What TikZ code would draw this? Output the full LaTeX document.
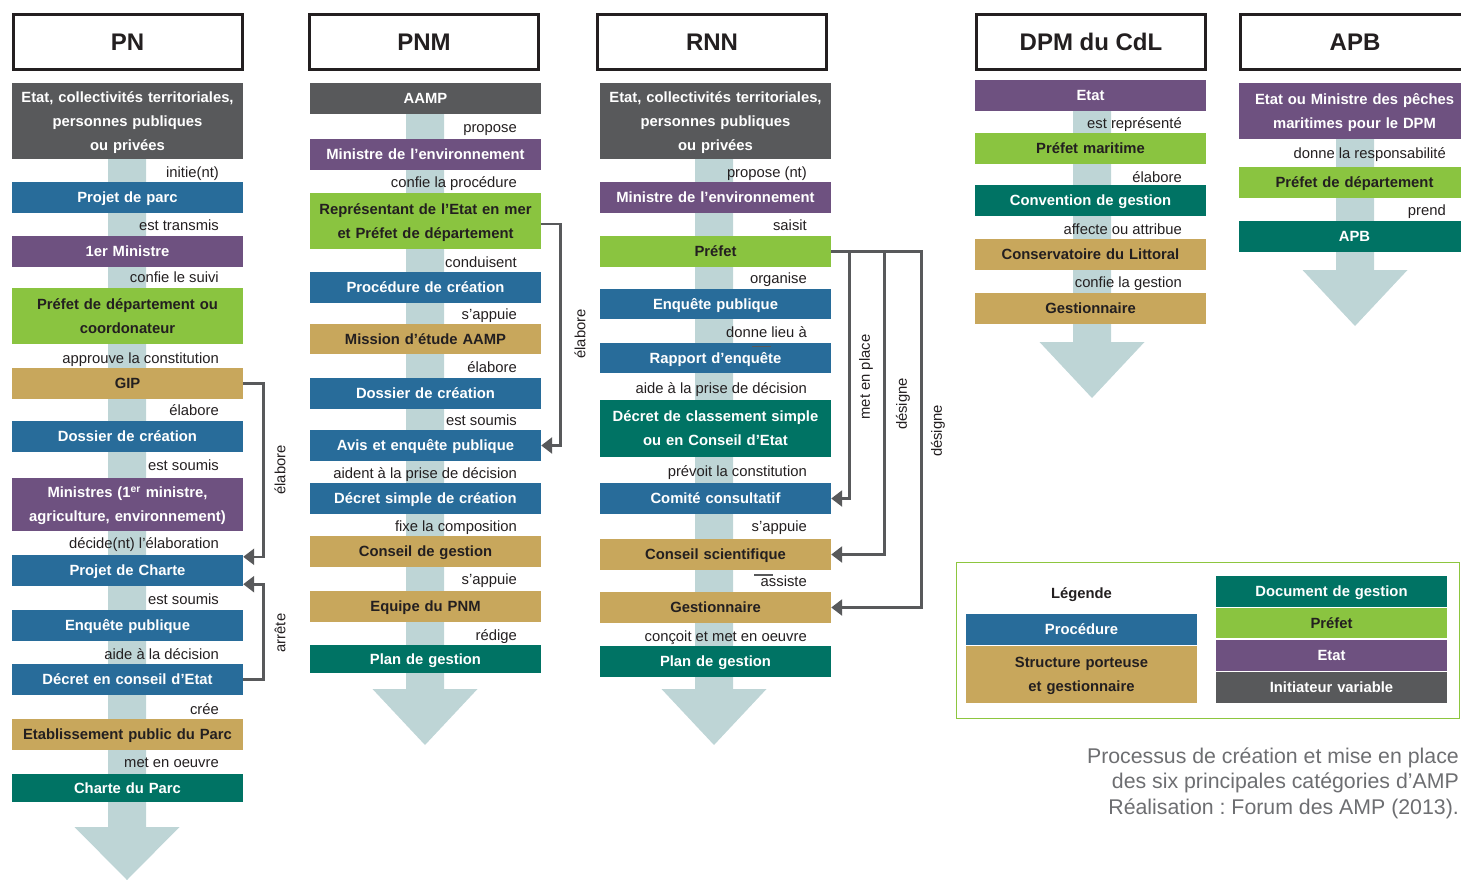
\documentclass[tikz,border=0pt]{standalone}
\usepackage{fontspec}
\setmainfont{Liberation Sans}
\usetikzlibrary{arrows.meta}

\definecolor{cgray}{RGB}{88,89,91}
\definecolor{cblue}{RGB}{40,108,154}
\definecolor{cpurple}{RGB}{110,81,128}
\definecolor{cgreen}{RGB}{138,196,64}
\definecolor{ctan}{RGB}{200,167,92}
\definecolor{cteal}{RGB}{0,115,100}
\definecolor{cstem}{RGB}{190,213,214}
\definecolor{cink}{RGB}{35,31,32}
\definecolor{cline}{RGB}{88,89,91}
\definecolor{cframe}{RGB}{141,198,63}
\definecolor{ccap}{RGB}{109,110,113}

\newcommand{\boxfont}{\fontsize{14.8}{24}\selectfont\bfseries}
\newcommand{\lblfont}{\fontsize{14.8}{18}\selectfont}
% flow stem with arrow head: centre x, top y, head base y, tip y
\newcommand{\flowstem}[4]{\fill[cstem] (#1-19,#2) -- (#1+19,#2) -- (#1+19,#3) -- (#1+52.5,#3) -- (#1,#4) -- (#1-52.5,#3) -- (#1-19,#3) -- cycle;}

\tikzset{
  box/.style={rectangle, inner sep=0pt, minimum width=231pt, minimum height=31pt, text width=229pt, align=center, font=\boxfont,
    execute at begin node={\rule{0pt}{14pt}}, execute at end node={\rule[-3.5pt]{0pt}{3.5pt}}},
  bgray/.style={box, fill=cgray, text=white},
  bblue/.style={box, fill=cblue, text=white},
  bpurple/.style={box, fill=cpurple, text=white},
  bteal/.style={box, fill=cteal, text=white},
  bgreen/.style={box, fill=cgreen, text=cink},
  btan/.style={box, fill=ctan, text=cink},
  titlebox/.style={rectangle, draw=cink, line width=3pt, fill=white, minimum width=229pt, minimum height=55pt, inner sep=0pt, font=\fontsize{24}{28}\selectfont\bfseries, text=cink},
  verb/.style={anchor=east, inner sep=0pt, font=\lblfont, text=cink, text height=14pt, text depth=2.5pt},
  side/.style={rotate=90, inner sep=0pt, font=\lblfont, text=cink},
  conn/.style={draw=cline, line width=2.6pt, -{Triangle[length=11pt,width=16pt]}},
}

\begin{document}
\begin{tikzpicture}[x=1pt,y=-1pt]
\useasboundingbox (0,0) rectangle (1461,880);
\clip (0,0) rectangle (1461,880);

% ---------- stems ----------
\flowstem{127}{159}{827}{880}
\flowstem{425}{114}{689}{745}
\flowstem{714}{159}{689}{745}
\flowstem{1092}{111}{342}{398}
\flowstem{1355}{139}{270}{326}

% ---------- PN ----------
\node[titlebox] (pnT) at (127.5,42) {PN};
\node[bgray, minimum height=76pt] (pn0) at (127.5,121) {Etat, collectivités territoriales,\\personnes publiques\\ou privées};
\node[bblue] (pn1) at (127.5,197.5) {Projet de parc};
\node[bpurple] (pn2) at (127.5,251.5) {1er Ministre};
\node[bgreen, minimum height=56pt] (pn3) at (127.5,316) {Préfet de département ou\\coordonateur};
\node[btan] (pn4) at (127.5,383.5) {GIP};
\node[bblue] (pn5) at (127.5,436.5) {Dossier de création};
\node[bpurple, minimum height=53pt] (pn6) at (127.5,504.5) {Ministres (1\textsuperscript{er} ministre,\\agriculture, environnement)};
\node[bblue] (pn7) at (127.5,570.5) {Projet de Charte};
\node[bblue] (pn8) at (127.5,625.5) {Enquête publique};
\node[bblue] (pn9) at (127.5,679.5) {Décret en conseil d’Etat};
\node[btan] (pn10) at (127.5,734.5) {Etablissement public du Parc};
\node[bteal, minimum height=28pt] (pn11) at (127.5,788) {Charte du Parc};

\node[verb] (pnv1) at (219,172) {initie(nt)};
\node[verb] (pnv2) at (219,225) {est transmis};
\node[verb] (pnv3) at (219,277) {confie le suivi};
\node[verb] (pnv4) at (219,358) {approuve la constitution};
\node[verb] (pnv5) at (219,410) {élabore};
\node[verb] (pnv6) at (219,465) {est soumis};
\node[verb] (pnv7) at (219,543) {décide(nt) l’élaboration};
\node[verb] (pnv8) at (219,599) {est soumis};
\node[verb] (pnv9) at (219,654) {aide à la décision};
\node[verb] (pnv10) at (219,709) {crée};
\node[verb] (pnv11) at (219,762) {met en oeuvre};

\draw[conn] (pn4.east) -- ++(20,0) |- ([yshift=-2pt]pn7.north east);
\draw[conn] (pn9.east) -- ++(20,0) |- ([yshift=2pt]pn7.south east);
\node[side] (pns1) at (280,470) {élabore};
\node[side] (pns2) at (280,633) {arrête};

% ---------- PNM ----------
\node[titlebox] (pnmT) at (424,42) {PNM};
\node[bgray] (pnm0) at (425.5,98.5) {AAMP};
\node[bpurple] (pnm1) at (425.5,154.5) {Ministre de l’environnement};
\node[bgreen, minimum height=56pt] (pnm2) at (425.5,221) {Représentant de l’Etat en mer\\et Préfet de département};
\node[bblue] (pnm3) at (425.5,287.5) {Procédure de création};
\node[btan, minimum height=30pt] (pnm4) at (425.5,339) {Mission d’étude AAMP};
\node[bblue] (pnm5) at (425.5,393.5) {Dossier de création};
\node[bblue] (pnm6) at (425.5,445.5) {Avis et enquête publique};
\node[bblue] (pnm7) at (425.5,498.5) {Décret simple de création};
\node[btan] (pnm8) at (425.5,551.5) {Conseil de gestion};
\node[btan] (pnm9) at (425.5,606.5) {Equipe du PNM};
\node[bteal, minimum height=28pt] (pnm10) at (425.5,659) {Plan de gestion};

\node[verb] (pnmv1) at (517,127) {propose};
\node[verb] (pnmv2) at (517,182) {confie la procédure};
\node[verb] (pnmv3) at (517,262) {conduisent};
\node[verb] (pnmv4) at (517,314) {s’appuie};
\node[verb] (pnmv5) at (517,367) {élabore};
\node[verb] (pnmv6) at (517,420) {est soumis};
\node[verb] (pnmv7) at (517,473) {aident à la prise de décision};
\node[verb] (pnmv8) at (517,526) {fixe la composition};
\node[verb] (pnmv9) at (517,579) {s’appuie};
\node[verb] (pnmv10) at (517,635) {rédige};

\draw[conn] ([yshift=-3pt]pnm2.east) -- ++(19,0) |- (pnm6.east);
\node[side] (pnms1) at (580,334) {élabore};

% ---------- RNN ----------
\node[titlebox] (rnnT) at (712,42) {RNN};
\node[bgray, minimum height=76pt] (rnn0) at (715.5,121) {Etat, collectivités territoriales,\\personnes publiques\\ou privées};
\node[bpurple] (rnn1) at (715.5,197.5) {Ministre de l’environnement};
\node[bgreen] (rnn2) at (715.5,251.5) {Préfet};
\node[bblue, minimum height=30pt] (rnn3) at (715.5,304) {Enquête publique};
\node[bblue, minimum height=30pt] (rnn4) at (715.5,358) {Rapport d’enquête};
\node[bteal, minimum height=57pt] (rnn5) at (715.5,428.5) {Décret de classement simple\\ou en Conseil d’Etat};
\node[bblue] (rnn6) at (715.5,498.5) {Comité consultatif};
\node[btan] (rnn7) at (715.5,554.5) {Conseil scientifique};
\node[btan] (rnn8) at (715.5,607.5) {Gestionnaire};
\node[bteal] (rnn9) at (715.5,661.5) {Plan de gestion};

\node[verb] (rnnv1) at (807,172) {propose (nt)};
\node[verb] (rnnv2) at (807,225) {saisit};
\node[verb] (rnnv3) at (807,278) {organise};
\node[verb] (rnnv4) at (807,332) {donne lieu à};
\node[verb] (rnnv5) at (807,388) {aide à la prise de décision};
\node[verb] (rnnv6) at (807,471) {prévoit la constitution};
\node[verb] (rnnv7) at (807,526) {s’appuie};
\node[verb] (rnnv8) at (807,581) {assiste};
\node[verb] (rnnv9) at (807,636) {conçoit et met en oeuvre};
% stray rule marks printed over two labels
\draw[cline, line width=1.5pt] (754,575) -- (773,575);
\draw[cline, line width=1.2pt] (752,346.5) -- (771,346.5);

\draw[conn] (rnn2.east) -- ++(18,0) |- (rnn6.east);
\draw[conn] (rnn2.east) -- ++(53,0) |- (rnn7.east);
\draw[conn] (rnn2.east) -- ++(90,0) |- (rnn8.east);
\node[side] (rnns1) at (866,377) {met en place};
\node[side] (rnns2) at (903,404) {désigne};
\node[side] (rnns3) at (938,431) {désigne};

% ---------- DPM du CdL ----------
\node[titlebox] (dpmT) at (1091,42) {DPM du CdL};
\node[bpurple] (dpm0) at (1090.5,95.5) {Etat};
\node[bgreen] (dpm1) at (1090.5,148.5) {Préfet maritime};
\node[bteal] (dpm2) at (1090.5,200.5) {Convention de gestion};
\node[btan] (dpm3) at (1090.5,254.5) {Conservatoire du Littoral};
\node[btan] (dpm4) at (1090.5,308.5) {Gestionnaire};

\node[verb] (dpmv1) at (1182,123) {est représenté};
\node[verb] (dpmv2) at (1182,177) {élabore};
\node[verb] (dpmv3) at (1182,229) {affecte ou attribue};
\node[verb] (dpmv4) at (1182,282) {confie la gestion};

% ---------- APB ----------
\node[titlebox] (apbT) at (1355,42) {APB};
\node[bpurple, minimum height=56pt] (apb0) at (1354.5,111) {Etat ou Ministre des pêches\\maritimes pour le DPM};
\node[bgreen] (apb1) at (1354.5,182.5) {Préfet de département};
\node[bteal] (apb2) at (1354.5,236.5) {APB};

\node[verb] (apbv1) at (1446,153) {donne la responsabilité};
\node[verb] (apbv2) at (1446,210) {prend};

% ---------- legend ----------
\node[draw=cframe, line width=1.5pt, minimum width=503pt, minimum height=156pt, inner sep=0pt] (leg) at (1208,640.5) {};
\node[font=\boxfont, text=cink, inner sep=0pt, text height=10pt, text depth=3pt] (legT) at (1081.5,595) {Légende};
\node[bblue] (leg1) at (1081.5,629.5) {Procédure};
\node[btan, minimum height=57pt] (leg2) at (1081.5,674.5) {Structure porteuse\\et gestionnaire};
\node[bteal] (leg3) at (1331.5,591.5) {Document de gestion};
\node[bgreen, minimum height=30pt] (leg4) at (1331.5,623) {Préfet};
\node[bpurple] (leg5) at (1331.5,655.5) {Etat};
\node[bgray] (leg6) at (1331.5,687.5) {Initiateur variable};

% ---------- caption ----------
\node[anchor=east, align=right, inner sep=0pt, font=\fontsize{21.3}{25.5}\selectfont\frenchspacing, text=ccap] (cap) at (1459,783) {Processus de création et mise en place\\des six principales catégories d’AMP\\Réalisation : Forum des AMP (2013).};
\end{tikzpicture}
\end{document}
